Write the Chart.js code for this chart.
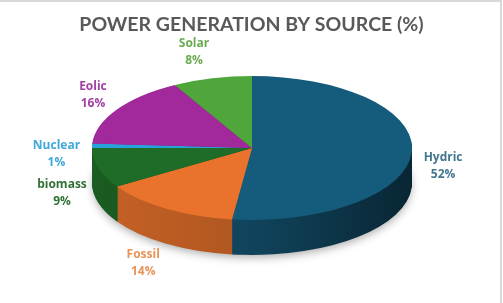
<!DOCTYPE html>
<html>
<head>
<meta charset="utf-8">
<script src="https://cdn.jsdelivr.net/npm/chart.js@4.4.1/dist/chart.umd.min.js"></script>
<style>
    html, body { margin: 0; padding: 0; background: #ffffff; }
    canvas { display: block; }
</style>
</head>
<body>
<canvas id="powerChart" width="503" height="303"></canvas>
<script>
const categories = ['Hydric', 'Fossil', 'biomass', 'Nuclear', 'Eolic', 'Solar'];
const shares = [52, 14, 9, 1, 16, 8];
const sliceColors = ['#155b7b', '#e9732c', '#1e6c27', '#27a2da', '#a1299b', '#4fa63b'];
const labelColors = ['#44758f', '#e8935a', '#2f7236', '#3fa8d8', '#a23fa3', '#6aab52'];

// where the squashed pie sits on the page
const CX = 252, CY = 148, RX = 160, RY = 72, DEPTH = 35;

function shade(hex, f) {
    let n = parseInt(hex.slice(1), 16);
    let r = Math.round(((n >> 16) & 255) * f);
    let g = Math.round(((n >> 8) & 255) * f);
    let b = Math.round((n & 255) * f);
    return 'rgb(' + r + ',' + g + ',' + b + ')';
}

function squash(ctx, arc, off) {
    ctx.translate(CX, CY + off);
    ctx.scale(1, RY / RX);
    ctx.translate(-arc.x, -arc.y);
}

const pie3d = {
    id: 'pie3d',
    beforeDraw(chart) {
        const ctx = chart.ctx;
        ctx.save();
        ctx.fillStyle = '#ffffff';
        ctx.fillRect(0, 0, chart.width, chart.height);
        ctx.strokeStyle = '#d9d9d9';
        ctx.lineWidth = 2;
        ctx.beginPath();
        ctx.moveTo(0, 1);
        ctx.lineTo(501, 1);
        ctx.lineTo(501, chart.height);
        ctx.stroke();
        ctx.restore();
    },
    beforeDatasetsDraw(chart) {
        const ctx = chart.ctx;
        const arcs = chart.getDatasetMeta(0).data;
        const first = arcs[0];

        // soft shadow under the disc
        ctx.save();
        ctx.shadowColor = 'rgba(0,0,0,0.35)';
        ctx.shadowBlur = 10;
        ctx.shadowOffsetY = 3;
        ctx.fillStyle = '#ffffff';
        ctx.beginPath();
        ctx.ellipse(CX, CY + DEPTH, RX - 1, RY - 1, 0, 0, Math.PI * 2);
        ctx.fill();
        ctx.restore();

        // side of the disc, stacked layers with darker colours
        for (let off = DEPTH; off >= 1; off--) {
            arcs.forEach(function (arc, i) {
                ctx.save();
                squash(ctx, first, off);
                const grad = ctx.createLinearGradient(first.x - RX, 0, first.x + RX, 0);
                grad.addColorStop(0, shade(sliceColors[i], 0.85));
                grad.addColorStop(0.5, shade(sliceColors[i], 0.75));
                grad.addColorStop(1, shade(sliceColors[i], 0.42));
                const side = Object.create(arc);
                side.options = Object.assign({}, arc.options, {backgroundColor: grad, borderWidth: 0});
                side.draw(ctx);
                ctx.restore();
            });
        }

        ctx.save();
        squash(ctx, first, 0);
    },
    afterDatasetsDraw(chart) {
        chart.ctx.restore();
    },
    afterDraw(chart) {
        const ctx = chart.ctx;
        const arcs = chart.getDatasetMeta(0).data;
        ctx.save();
        ctx.font = 'bold 12px "Open Sans"';
        ctx.textAlign = 'center';
        ctx.textBaseline = 'middle';
        arcs.forEach(function (arc, i) {
            const mid = (arc.startAngle + arc.endAngle) / 2;
            const ux = Math.cos(mid), uy = Math.sin(mid);
            const line1 = categories[i];
            const line2 = shares[i] + '%';
            const w = Math.max(ctx.measureText(line1).width, ctx.measureText(line2).width);
            const h = 34;
            const ax = CX + (RX + 12) * ux;
            const ay = CY + RY * uy + DEPTH * Math.max(0, (uy + 0.4) / 1.4);
            const x = ax + Math.sign(ux) * w / 2;
            const y = ay + uy * (10 + h / 2);
            ctx.fillStyle = labelColors[i];
            ctx.fillText(line1, x, y - 8.5);
            ctx.fillText(line2, x, y + 8.5);
        });
        ctx.restore();
    }
};

new Chart(document.getElementById('powerChart').getContext('2d'), {
    type: 'pie',
    data: {
        labels: categories,
        datasets: [{
            data: shares,
            backgroundColor: sliceColors,
            borderWidth: 0,
            radius: RX,
            clip: false
        }]
    },
    options: {
        responsive: false,
        animation: false,
        events: [],
        plugins: {
            legend: { display: false },
            tooltip: { enabled: false },
            title: {
                display: true,
                text: 'POWER GENERATION BY SOURCE (%)',
                color: '#595959',
                font: { family: 'Lato', size: 19.5, weight: 'bold' },
                padding: { top: 13, bottom: 10 }
            }
        }
    },
    plugins: [pie3d]
});
</script>
</body>
</html>
